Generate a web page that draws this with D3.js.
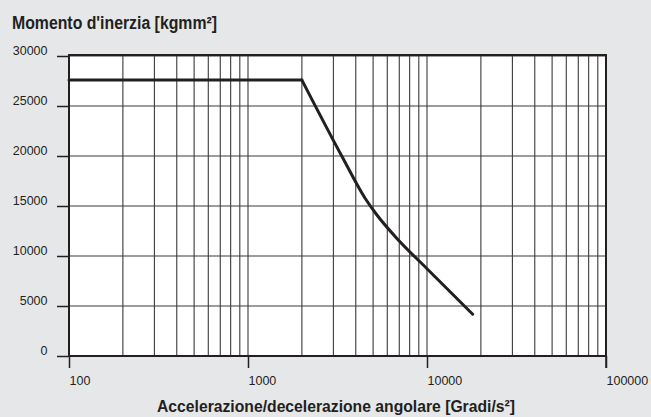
<!DOCTYPE html>
<html><head><meta charset="utf-8">
<script src="https://cdn.jsdelivr.net/npm/d3@7/dist/d3.min.js"></script>
<style>html,body{margin:0;padding:0;background:#e6e7e9;}svg{display:block;}</style>
</head><body>
<svg id="c" width="651" height="417"></svg>
<script>
const title = "Momento d'inerzia [kgmm²]";
const xTitle = "Accelerazione/decelerazione angolare [Gradi/s²]";
const yTicks = [0, 5000, 10000, 15000, 20000, 25000, 30000];
const xTicks = [100, 1000, 10000, 100000];
const plateauX = [100, 2000];
const plateauY = [27600, 27600];
const slopeX = [2000, 3340, 4500, 5200, 7000, 10000, 18000];
const slopeY = [27600, 20000, 15800, 14200, 11500, 8730, 4180];

const svg = d3.select("#c");
const L = 69, R = 606, T = 56, B = 356;
const x = d3.scaleLog().domain([100, 100000]).range([L, R]);
const y = d3.scaleLinear().domain([0, 30000]).range([B, T]);
const ink = "#231f20";

svg.append("rect").attr("x", L).attr("y", T).attr("width", R - L).attr("height", B - T).attr("fill", "#fff");

const minor = [];
for (let d = 100; d < 100000; d *= 10) for (let k = 1; k <= 9; k++) minor.push(d * k);
minor.push(100000);
svg.append("g").selectAll("line").data(minor).join("line")
  .attr("x1", d => x(d)).attr("x2", d => x(d)).attr("y1", T).attr("y2", B)
  .attr("stroke", "#3a3a3a").attr("stroke-width", 1.1);
svg.append("g").selectAll("line").data(yTicks).join("line")
  .attr("x1", L).attr("x2", R).attr("y1", d => y(d)).attr("y2", d => y(d))
  .attr("stroke", "#3a3a3a").attr("stroke-width", 1.1);

const yAxis = d3.axisLeft(y).tickValues(yTicks).tickSize(12).tickFormat(d => d);
const gy = svg.append("g").attr("transform", `translate(${L},0)`).call(yAxis);
gy.select(".domain").remove();
gy.selectAll(".tick line").attr("stroke", ink).attr("stroke-width", 1.5);
gy.selectAll(".tick text").attr("x", -21.5).attr("dy", "-0.15em")
  .attr("font-family", "Liberation Sans, Arial, sans-serif").attr("font-size", 12.5).attr("fill", ink);

const xAxis = d3.axisBottom(x).tickValues(xTicks).tickSize(12).tickFormat(d => d);
const gx = svg.append("g").attr("transform", `translate(0,${B})`).call(xAxis);
gx.select(".domain").remove();
gx.selectAll(".tick line").attr("stroke", ink).attr("stroke-width", 1.5);
gx.selectAll(".tick text").attr("text-anchor", "start").attr("y", 20).attr("dy", "0.71em")
  .attr("font-family", "Liberation Sans, Arial, sans-serif").attr("font-size", 12.5).attr("fill", ink);

svg.append("rect").attr("x", L).attr("y", T - 1).attr("width", R - L).attr("height", B - T + 1)
  .attr("fill", "none").attr("stroke", ink).attr("stroke-width", 2);
svg.append("line").attr("x1", R).attr("x2", R).attr("y1", B).attr("y2", B + 12).attr("stroke", ink).attr("stroke-width", 1.5);

const flat = plateauX.map((v, i) => [v, plateauY[i]]);
const drop = slopeX.map((v, i) => [v, slopeY[i]]);
const lineL = d3.line().x(d => x(d[0])).y(d => y(d[1]));
const lineM = d3.line().x(d => x(d[0])).y(d => y(d[1])).curve(d3.curveMonotoneX);
[[flat, lineL], [drop, lineM]].forEach(([data, gen]) => {
  svg.append("path").datum(data).attr("d", gen)
    .attr("fill", "none").attr("stroke", ink).attr("stroke-width", 3)
    .attr("stroke-linejoin", "round").attr("stroke-linecap", "round");
});

svg.append("text").attr("x", 12).attr("y", 28.5).text(title)
  .attr("font-family", "Liberation Sans, Arial, sans-serif").attr("font-weight", "bold")
  .attr("font-size", 17.5).attr("fill", ink).attr("textLength", 205).attr("lengthAdjust", "spacingAndGlyphs");
svg.append("text").attr("x", 157).attr("y", 412).text(xTitle)
  .attr("font-family", "Liberation Sans, Arial, sans-serif").attr("font-weight", "bold")
  .attr("font-size", 16.5).attr("fill", ink).attr("textLength", 358).attr("lengthAdjust", "spacingAndGlyphs");
</script>
</body></html>
